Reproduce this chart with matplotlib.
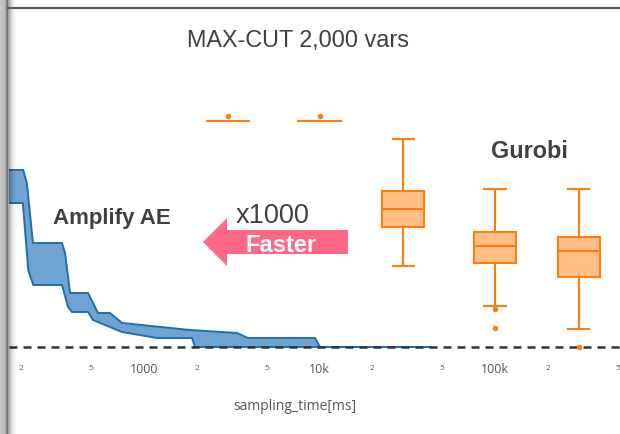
import numpy as np
import matplotlib
matplotlib.use("Agg")
import matplotlib.pyplot as plt
from matplotlib.patches import Polygon, Rectangle

W, H = 620, 434

# Amplify AE band: upper / lower edge (x = sampling time [ms], y = gap to best cut)
ae_up_x = [168, 205, 215, 233, 341, 355, 379, 480, 547, 640, 750, 1828, 3388, 3914, 9426, 10070, 42600]
ae_up_y = [17.7, 17.7, 16.4, 10.4, 10.4, 9.4, 5.4, 5.4, 3.4, 3.4, 2.4, 1.7, 1.4, 0.9, 0.9, 0.0, 0.0]
ae_lo_x = [168, 204, 219, 234, 341, 369, 389, 480, 512, 750, 1186, 1877, 1953, 42600]
ae_lo_y = [14.4, 14.4, 7.7, 6.2, 6.2, 4.0, 3.5, 3.5, 2.7, 1.5, 0.9, 0.9, 0.0, 0.0]

# Gurobi box stats
gb_x = [3000, 10000, 30000, 100000, 300000]
gb_wlo = [22.6, 22.6, 8.1, 4.1, 1.8]
gb_q1 = [22.6, 22.6, 12.0, 8.4, 7.0]
gb_med = [22.6, 22.6, 13.8, 10.1, 9.6]
gb_q3 = [22.6, 22.6, 15.6, 11.5, 11.0]
gb_whi = [22.6, 22.6, 20.8, 15.8, 15.8]
gb_out_x = [3000, 10000, 100000, 100000, 300000]
gb_out_y = [23.1, 23.1, 3.8, 1.9, 0.0]

major_ticks = [1000, 10000, 100000]
major_labels = ["1000", "10k", "100k"]
minor_ticks = [200, 500, 2000, 5000, 20000, 50000, 200000, 500000]
minor_labels = ["2", "5", "2", "5", "2", "5", "2", "5"]

ORANGE = "#ff7f0e"
TXT = "#404040"


def fx(px):
    return px / W


def fy(py):
    return 1 - py / H


fig = plt.figure(figsize=(W / 100, H / 100), dpi=100)
fig.patch.set_facecolor("white")

# plot area: px 9..620 horizontally, 10..352 vertically
ax = fig.add_axes([fx(9), fy(352), fx(620) - fx(9), fy(10) - fy(352)])
ax.set_xscale("log")
ax.set_xlim(170.1, 515600)
ax.set_ylim(-0.5, 33.7)
for s in ax.spines.values():
    s.set_visible(False)
ax.set_yticks([])

# AE band
poly_x = np.concatenate([ae_up_x, ae_lo_x[::-1]])
poly_y = np.concatenate([ae_up_y, ae_lo_y[::-1]])
ax.fill(poly_x, poly_y, facecolor="#6fa3d2", edgecolor="none", zorder=2)
ax.plot(ae_up_x, ae_up_y, color="#1f6fb0", lw=1.4, zorder=3)
ax.plot(ae_lo_x, ae_lo_y, color="#1f6fb0", lw=1.4, zorder=3)

# optimum line
ax.axhline(0, color="#333333", lw=1.8, ls=(0, (3.2, 2.4)), zorder=4)

# Gurobi boxes (drawn in log space so they stay symmetric)
hw, cw = 0.12, 0.06
for x, lo, q1, md, q3, hi in zip(gb_x, gb_wlo, gb_q1, gb_med, gb_q3, gb_whi):
    l, r = x * 10 ** -hw, x * 10 ** hw
    cl, cr = x * 10 ** -cw, x * 10 ** cw
    ax.add_patch(Rectangle((l, q1), r - l, q3 - q1, facecolor="#ffbf87",
                           edgecolor=ORANGE, lw=1.5, zorder=5))
    ax.plot([l, r], [md, md], color=ORANGE, lw=1.5, zorder=6)
    if hi > q3:
        ax.plot([x, x], [q3, hi], color=ORANGE, lw=1.5, zorder=5)
        ax.plot([cl, cr], [hi, hi], color=ORANGE, lw=1.5, zorder=5)
    if lo < q1:
        ax.plot([x, x], [lo, q1], color=ORANGE, lw=1.5, zorder=5)
        ax.plot([cl, cr], [lo, lo], color=ORANGE, lw=1.5, zorder=5)
ax.plot(gb_out_x, gb_out_y, "o", color=ORANGE, ms=4, mec="none", zorder=7)

# x axis ticks
ax.set_xticks(major_ticks)
ax.set_xticklabels(major_labels)
ax.set_xticks(minor_ticks, minor=True)
ax.set_xticklabels(minor_labels, minor=True)
ax.tick_params(axis="x", which="major", length=0, pad=8, labelsize=9, labelcolor="#555555")
ax.tick_params(axis="x", which="minor", length=0, pad=9.5, labelsize=6, labelcolor="#555555")
for lab in ax.get_xticklabels(which="both"):
    lab.set_fontfamily("Open Sans")

ax.set_xlabel("sampling_time[ms]", fontsize=10, color="#555555", family="Open Sans")
ax.xaxis.label.set_va("baseline")
ax.xaxis.set_label_coords((295 - 9) / 611, (352 - 409.5) / 342)

# texts
fig.text(fx(298), fy(46.7), "MAX-CUT 2,000 vars", ha="center", va="baseline",
         fontsize=16.8, color=TXT, family="Liberation Sans")
fig.text(fx(111.5), fy(224), "Amplify AE", ha="center", va="baseline",
         fontsize=16, fontweight="bold", color=TXT, family="Liberation Sans")
fig.text(fx(272.5), fy(223), "x1000", ha="center", va="baseline",
         fontsize=19.5, color=TXT, family="Liberation Sans")
fig.text(fx(529), fy(158.5), "Gurobi", ha="center", va="baseline",
         fontsize=16.8, fontweight="bold", color=TXT, family="Liberation Sans")

# "Faster" arrow
arrow_px = [(348, 230), (227, 230), (227, 218), (203, 242), (227, 266), (227, 254), (348, 254)]
fig.patches.append(Polygon([(fx(a), fy(b)) for a, b in arrow_px], closed=True,
                           facecolor="#ff6883", edgecolor="none", transform=fig.transFigure))
fig.text(fx(281), fy(252), "Faster", ha="center", va="baseline",
         fontsize=17, fontweight="bold", color="white", family="Liberation Sans")

# slide frame: top rule + left shadow strip (opaque edge, then a fading shadow)
fig.add_artist(plt.Line2D([fx(8), 1], [fy(8), fy(8)], color="#555555", lw=1.5,
                          transform=fig.transFigure))
strip = np.array([[0.78, 0.77, 0.76, 0.74, 0.72, 0.68, 0.50, 0.46]])
sax = fig.add_axes([0, 0, fx(8), 1])
sax.imshow(strip, cmap="gray", vmin=0, vmax=1, aspect="auto", interpolation="nearest")
sax.axis("off")
shade = np.zeros((1, 9, 4))
shade[0, :, 3] = [0.38, 0.30, 0.23, 0.17, 0.12, 0.08, 0.05, 0.02, 0.0]
hax = fig.add_axes([fx(8), 0, fx(9), 1])
hax.imshow(shade, aspect="auto", interpolation="nearest")
hax.axis("off")

fig.savefig("out.png", dpi=100)
